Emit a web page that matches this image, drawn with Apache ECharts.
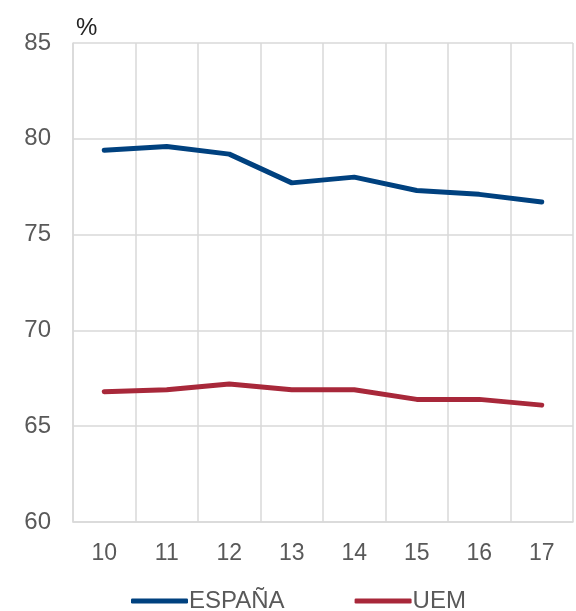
<!DOCTYPE html>
<html><head><meta charset="utf-8">
<script src="https://cdn.jsdelivr.net/npm/echarts@6/dist/echarts.min.js"></script>
<style>html,body{margin:0;padding:0;background:#fff}#c{width:576px;height:611px}</style>
</head><body><div id="c"></div>
<script>
const categories = ['10','11','12','13','14','15','16','17'];
const espana = [79.4, 79.6, 79.2, 77.7, 78.0, 77.3, 77.1, 76.7];
const uem = [66.8, 66.9, 67.2, 66.9, 66.9, 66.4, 66.4, 66.1];
const chart = echarts.init(document.getElementById('c'));
const font = 'Liberation Sans';
chart.setOption({
  animation: false,
  textStyle: {fontFamily: font},
  grid: {left: 73, right: 3, top: 43, bottom: 89, containLabel: false},
  legend: {
    top: 584, left: 126,
    itemWidth: 57, itemHeight: 5, itemGap: 70, icon: 'roundRect',
    textStyle: {fontSize: 24, color: '#595959', fontFamily: font, padding: [0,0,0,-4]},
    data: ['ESPAÑA', 'UEM']
  },
  xAxis: {
    type: 'category', data: categories, boundaryGap: true,
    axisLine: {show: true, lineStyle: {color: '#d9d9d9', width: 1.5}},
    axisTick: {show: false},
    splitLine: {show: true, lineStyle: {color: '#d9d9d9', width: 1.5}},
    axisLabel: {fontSize: 23, color: '#595959', margin: 20, fontFamily: font}
  },
  yAxis: {
    type: 'value', min: 60, max: 85, interval: 5,
    name: '%', nameLocation: 'end', nameGap: 3,
    nameTextStyle: {fontSize: 24, color: '#222', align: 'left', padding: [0,0,0,3], fontFamily: font},
    axisLine: {show: true, lineStyle: {color: '#d9d9d9', width: 1.5}},
    axisTick: {show: false},
    splitLine: {show: true, lineStyle: {color: '#d9d9d9', width: 1.5}},
    axisLabel: {fontSize: 24, color: '#595959', margin: 22, fontFamily: font}
  },
  series: [
    {name: 'ESPAÑA', type: 'line', data: espana, symbol: 'none', color: '#00417f',
     lineStyle: {width: 5, color: '#00417f', cap: 'round'}},
    {name: 'UEM', type: 'line', data: uem, symbol: 'none', color: '#a8283a',
     lineStyle: {width: 5, color: '#a8283a', cap: 'round'}}
  ]
});
</script></body></html>
